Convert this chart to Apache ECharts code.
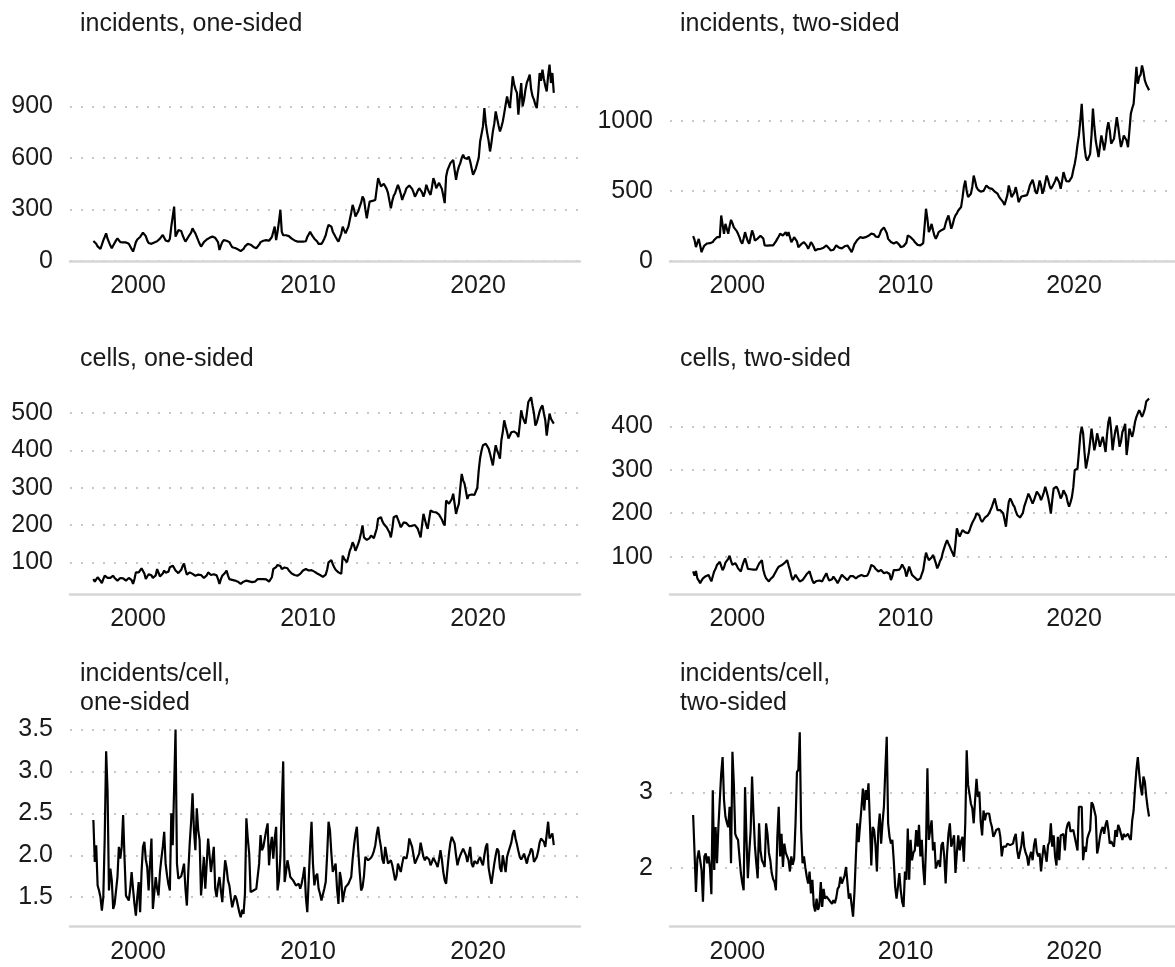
<!DOCTYPE html>
<html><head><meta charset="utf-8">
<script src="https://cdn.jsdelivr.net/npm/echarts@6/dist/echarts.min.js"></script>
<style>html,body{margin:0;padding:0;background:#fff}#c{width:1175px;height:967px}</style>
</head><body><div id="c"></div>
<script>
// monthly series, first value = May 1997, last = June 2024
const startYear = 1997.375;

const incidentsOneSided = [
117,110,100,85,78,70,74,120,
140,161,130,110,90,74,90,105,120,132,125,110,
110,108,105,108,102,100,90,70,55,80,110,125,
132,140,150,165,171,145,120,105,95,100,105,108,
110,115,122,130,140,152,135,120,115,113,130,200,
200,317,142,160,180,190,175,150,130,113,120,140,
140,165,190,175,161,150,120,100,84,95,110,120,
125,130,135,140,142,138,135,125,110,64,90,110,
122,120,118,118,110,95,80,78,76,74,68,60,
58,54,70,85,95,100,103,95,90,82,78,74,
85,95,110,115,118,120,122,120,118,125,140,170,
200,122,170,230,298,170,150,148,150,152,145,135,
130,125,120,118,113,110,113,115,113,113,115,140,
150,171,155,142,130,120,113,100,93,100,113,130,
150,185,210,220,200,171,165,140,125,113,113,160,
200,180,161,165,200,240,280,327,300,259,275,290,
317,340,375,360,300,249,300,346,340,350,352,356,
420,482,460,434,445,450,453,420,395,350,307,350,
380,395,420,444,420,390,356,380,400,424,430,440,
444,420,400,375,390,410,424,424,400,375,400,444,
420,400,385,430,482,460,424,440,455,463,420,380,
337,492,530,550,570,580,589,530,473,520,550,570,
600,619,600,589,595,609,580,540,502,520,540,550,
600,696,740,784,891,800,745,700,638,690,755,800,
871,830,790,755,780,813,860,910,959,920,891,980,
1076,1030,1000,979,852,950,1037,901,940,998,1040,1060,
1086,1000,960,940,910,891,980,1095,1050,1115,1060,1020,
988,1080,1144,1037,1095,979];

const incidentsTwoSided = [
177,150,99,130,158,110,63,90,
110,123,125,127,127,130,135,150,163,170,168,170,
325,260,194,265,230,194,250,294,270,240,230,215,
194,170,140,123,160,206,170,140,123,170,218,190,
146,150,160,170,180,194,160,111,111,110,111,112,
111,111,120,140,158,175,194,190,182,190,206,180,
206,170,135,150,170,182,140,99,110,120,130,135,
135,110,87,110,135,120,100,75,80,85,86,87,
87,95,100,111,105,90,75,63,80,95,111,100,
95,87,90,100,105,111,111,100,80,63,90,120,
135,150,160,170,170,165,170,170,175,180,182,195,
206,190,175,172,170,190,218,230,240,246,200,158,
145,135,123,125,130,135,130,115,99,100,105,111,
130,182,175,170,160,150,135,125,115,111,111,115,
127,250,373,300,206,230,265,220,180,158,180,206,
210,220,225,230,270,300,325,280,230,260,300,325,
340,360,370,385,450,530,574,500,456,470,480,530,
610,570,527,510,500,495,492,500,510,539,530,520,
520,515,505,495,490,480,460,445,432,420,400,396,
470,539,500,456,470,490,527,480,420,440,460,468,
465,456,470,500,539,560,579,540,495,480,520,574,
540,480,510,560,610,580,540,515,530,539,570,600,
610,560,515,570,634,600,570,563,568,574,600,650,
692,750,830,896,1000,1121,950,812,740,717,740,765,
900,1088,960,858,800,741,820,896,850,789,850,940,
991,930,837,850,872,950,1026,960,880,813,850,896,
896,860,812,930,1050,1090,1121,1250,1385,1265,1313,1330,
1396,1350,1289,1260,1240,1218];

const cellsOneSided = [
55,48,46,60,55,50,44,55,
64,62,58,55,58,62,64,58,54,51,55,58,
60,57,54,51,55,58,60,52,42,55,73,73,
73,78,84,87,70,55,62,68,73,65,58,55,
65,82,72,62,60,70,78,72,69,75,87,90,
91,85,78,73,71,69,80,90,97,80,67,70,
73,71,69,66,64,65,67,69,66,62,58,55,
65,73,69,66,64,68,73,65,55,42,55,64,
68,72,78,65,55,51,53,52,51,50,48,45,
42,45,48,50,51,50,49,48,47,46,48,52,
55,54,55,53,55,55,54,50,48,46,60,82,
84,87,93,96,90,82,84,86,87,84,78,73,
70,68,66,64,64,66,69,72,78,80,82,80,
78,78,79,77,75,73,70,69,66,62,61,64,
67,80,100,104,106,95,87,80,75,73,70,69,
118,110,105,100,115,131,140,154,145,131,140,150,
163,180,199,167,165,160,158,165,172,168,165,163,
190,217,220,221,210,203,198,194,190,180,167,190,
221,223,225,215,205,194,200,207,212,205,200,197,
194,198,203,200,203,190,178,167,200,230,215,200,
190,215,239,236,235,234,234,232,228,225,215,205,
199,266,262,257,257,270,284,282,230,245,257,300,
337,320,311,311,270,280,284,282,282,281,279,300,
346,380,400,414,416,418,418,405,391,375,360,390,
414,400,390,378,427,450,481,465,450,432,440,449,
449,451,453,445,436,470,508,490,480,472,500,530,
530,543,520,500,467,475,490,505,515,521,500,481,
440,470,499,485,480,472];

const cellsTwoSided = [
66,56,67,50,45,39,45,50,
52,55,56,58,50,43,55,66,72,81,85,88,
91,69,75,86,90,95,102,90,81,83,85,80,
73,70,66,78,88,96,85,72,69,71,73,70,
66,70,77,84,88,92,70,58,50,46,43,48,
52,54,60,66,72,77,79,80,81,85,88,92,
80,69,55,46,52,58,54,48,43,45,46,50,
55,60,64,66,55,45,39,42,44,46,45,44,
43,50,56,62,52,45,43,48,54,50,45,39,
45,52,58,55,52,48,46,50,55,58,55,52,
50,52,55,58,58,56,55,54,56,62,70,81,
79,77,72,68,66,67,69,65,62,60,64,66,
60,46,55,69,68,69,69,70,75,82,85,70,
54,65,77,68,58,55,52,48,46,43,50,60,
69,90,109,100,92,95,98,104,95,85,73,80,
90,96,110,120,130,138,130,123,115,108,100,130,
165,155,146,150,161,158,156,155,154,160,170,178,
180,190,200,203,195,185,180,185,190,192,195,200,
203,215,225,234,220,207,205,207,207,200,185,169,
200,226,234,228,220,215,205,196,192,190,188,200,
215,225,235,245,238,230,222,230,240,250,253,240,
230,238,248,261,250,237,220,199,230,257,260,261,
255,245,234,240,253,250,240,225,215,225,237,260,
299,300,303,340,380,399,384,340,303,320,338,365,
395,370,345,360,384,370,353,365,376,360,341,380,
410,422,390,345,370,390,402,380,353,365,387,395,
406,334,360,395,385,376,390,410,422,430,437,430,
422,430,440,457,460,464];

const perCellOneSided = [
2.42,1.92,2.12,1.64,1.58,1.50,1.34,1.50,
2.20,3.24,2.78,1.58,1.84,1.70,1.36,1.42,1.42,1.74,2.10,1.96,
2.10,2.48,1.96,1.52,1.52,1.46,1.60,1.80,1.60,1.42,1.28,1.50,
1.68,1.32,1.80,2.10,2.16,1.95,1.86,1.58,1.90,2.20,1.36,1.55,
1.74,1.60,1.52,1.80,1.96,2.10,2.28,1.90,1.76,1.65,1.58,2.50,
2.12,2.80,3.50,1.90,1.72,1.70,1.75,1.82,1.90,1.60,1.40,1.80,
2.14,2.40,2.74,2.30,2.06,2.56,2.30,2.18,1.52,1.75,1.98,1.60,
1.90,2.20,2.00,1.80,1.95,2.10,1.60,1.50,1.65,1.74,1.58,1.44,
1.70,1.94,1.85,1.70,1.64,1.50,1.38,1.45,1.52,1.48,1.40,1.32,
1.26,1.35,1.30,1.54,2.44,2.20,2.02,1.56,1.56,1.58,1.58,1.60,
1.60,1.90,2.24,2.06,2.10,2.10,2.30,2.38,1.88,2.10,2.22,1.96,
2.20,2.34,1.58,1.70,1.98,2.60,3.12,1.68,1.80,1.94,1.85,1.74,
1.72,1.70,1.68,1.64,1.62,1.66,1.60,1.66,1.75,1.86,1.50,1.32,
1.70,2.10,2.40,1.90,1.64,1.75,1.78,1.60,1.54,1.46,1.46,1.60,
1.68,2.00,2.40,2.30,2.02,1.80,1.85,1.90,1.60,1.42,1.80,1.70,
1.44,1.55,1.62,1.64,1.66,1.70,1.74,1.95,2.12,2.25,2.34,2.05,
1.80,1.58,1.62,1.75,1.98,1.96,1.94,1.95,1.97,2.00,2.05,2.12,
2.25,2.34,2.20,2.10,1.95,1.90,2.10,2.10,1.90,1.92,1.94,1.88,
1.86,1.70,1.75,1.90,1.85,1.80,1.90,1.98,1.97,1.96,2.05,2.20,
2.20,2.10,2.00,1.90,1.92,1.98,2.02,2.15,2.15,1.98,1.94,1.98,
2.00,1.95,1.88,1.92,1.97,1.95,1.90,1.86,1.95,2.06,1.95,1.80,
1.70,1.66,1.85,2.02,2.15,2.22,2.18,2.14,2.00,1.88,1.95,2.00,
2.04,2.08,2.08,2.00,1.92,2.00,2.10,1.90,1.86,1.93,1.92,1.90,
1.95,1.98,1.92,1.88,2.00,2.10,2.14,1.85,1.75,1.66,1.78,1.90,
2.00,2.08,2.05,1.85,1.80,2.00,1.90,1.80,1.98,2.04,2.06,2.15,
2.25,2.30,2.20,2.13,2.05,1.98,1.95,1.98,2.02,1.96,1.90,1.98,
2.02,2.08,2.05,1.92,1.95,1.98,2.05,2.15,2.20,2.22,2.16,2.10,
2.25,2.40,2.20,2.20,2.26,2.12];

const perCellTwoSided = [
2.70,2.20,1.68,2.12,2.23,2.23,1.97,1.55,
2.15,2.19,2.06,2.15,2.00,1.65,3.03,1.97,2.54,2.06,2.54,2.90,
3.25,3.47,2.90,2.68,2.60,2.54,2.81,2.06,3.54,3.12,2.45,2.40,
2.37,2.15,1.93,1.80,1.70,3.07,2.39,1.86,2.20,2.50,3.21,2.72,
2.30,2.06,1.86,2.59,2.23,2.10,2.06,2.01,2.59,2.45,2.20,2.10,
1.93,1.85,1.81,1.70,2.40,2.81,2.15,2.45,2.01,2.32,2.20,2.15,
2.10,1.95,2.15,2.04,2.12,2.60,3.27,3.30,3.80,2.50,2.06,2.15,
2.00,1.88,1.79,1.95,1.66,1.84,1.50,1.42,1.59,1.44,1.50,1.81,
1.48,1.72,1.59,1.62,1.64,1.57,1.55,1.52,1.57,1.53,1.60,1.72,
1.75,1.88,1.79,1.79,1.90,2.01,1.99,1.59,1.66,1.50,1.35,1.68,
2.15,2.59,2.34,2.32,2.80,3.05,2.76,3.03,2.90,3.12,2.60,2.03,
2.54,2.50,2.30,1.95,2.50,2.72,2.32,2.60,2.81,3.30,3.74,2.59,
2.41,2.32,2.37,2.10,1.75,1.59,1.75,1.93,1.70,1.55,1.48,1.95,
1.84,2.52,1.84,2.37,2.10,2.20,2.23,2.50,2.28,2.57,2.15,2.37,
2.00,1.77,2.28,3.32,2.37,2.50,2.63,2.23,2.34,1.99,2.05,2.10,
2.01,2.30,2.34,2.15,1.79,2.19,2.45,2.59,2.28,2.35,2.43,1.93,
2.20,2.43,2.23,2.35,2.41,2.08,2.60,3.56,3.10,2.98,2.85,2.79,
2.59,2.90,3.18,2.94,3.01,2.61,2.43,2.76,2.63,2.72,2.72,2.72,
2.61,2.54,2.41,2.45,2.50,2.51,2.52,2.41,2.15,2.28,2.28,2.28,
2.32,2.31,2.30,2.31,2.32,2.40,2.45,2.23,2.12,2.10,2.30,2.48,
2.28,2.20,2.15,2.03,2.15,2.21,2.10,2.30,2.39,2.21,2.15,2.19,
1.95,2.15,2.30,2.32,2.08,2.30,2.34,2.59,2.28,2.43,2.15,2.03,
2.41,2.10,2.43,2.45,2.45,2.23,2.50,2.58,2.61,2.48,2.49,2.50,
2.41,2.39,2.23,2.81,2.81,2.81,2.10,2.28,2.21,2.39,2.45,2.50,
2.87,2.84,2.83,2.68,2.19,2.28,2.41,2.50,2.54,2.45,2.57,2.63,
2.50,2.32,2.35,2.37,2.28,2.50,2.41,2.57,2.52,2.50,2.37,2.45,
2.41,2.43,2.45,2.40,2.37,2.63,2.76,3.05,3.30,3.47,3.25,3.07,
2.96,3.21,3.14,2.95,2.80,2.68];

const titles = ['incidents, one-sided', 'incidents, two-sided',
  'cells, one-sided', 'cells, two-sided',
  'incidents/cell,\none-sided', 'incidents/cell,\ntwo-sided'];
const xTicks = [2000, 2010, 2020];
const yTicks = [[0, 300, 600, 900], [0, 500, 1000],
  [100, 200, 300, 400, 500], [100, 200, 300, 400],
  [1.5, 2.0, 2.5, 3.0, 3.5], [2, 3]];
const yRanges = [[0, 1200], [0, 1470], [15, 565], [14, 486], [1.15, 3.59], [1.22, 3.935]];
const allSeries = [incidentsOneSided, incidentsTwoSided, cellsOneSided, cellsTwoSided, perCellOneSided, perCellTwoSided];

// layout
const FONT = 'Liberation Sans, Arial, Helvetica, sans-serif';
const colLeft = [70, 670], colWidth = [510, 514];
const rowTop = [55, 389, 722], rowHeight = [206, 205, 204.5];
const titleTop = [5, 340, 655];

const grids = [], xAxes = [], yAxes = [], series = [], titleOpts = [];
for (let k = 0; k < 6; k++) {
  const r = Math.floor(k / 2), c = k % 2;
  grids.push({left: colLeft[c], top: rowTop[r], width: colWidth[c], height: rowHeight[r]});
  titleOpts.push({text: titles[k], left: colLeft[c] + 5, top: titleTop[r], padding: 5,
    textStyle: {fontSize: 25, fontWeight: 'normal', color: '#1a1a1a', fontFamily: FONT, lineHeight: 29}});
  xAxes.push({gridIndex: k, type: 'value', min: 1996, max: 2026,
    axisLine: {show: true, lineStyle: {color: '#d6d6d6', width: 2.5}},
    axisTick: {show: false, customValues: xTicks},
    axisLabel: {customValues: xTicks, formatter: v => String(v), fontSize: 25, color: '#1a1a1a', fontFamily: FONT, margin: 13},
    splitLine: {show: false}});
  const fmt = (k === 4) ? (v => v.toFixed(1)) : (v => String(v));
  yAxes.push({gridIndex: k, type: 'value', min: yRanges[k][0], max: yRanges[k][1],
    axisLine: {show: false},
    axisTick: {show: false, customValues: yTicks[k]},
    axisLabel: {customValues: yTicks[k], formatter: fmt, fontSize: 25, color: '#1a1a1a', fontFamily: FONT, margin: 17},
    splitLine: {show: true, lineStyle: {color: '#c8c8c8', width: 2.2, type: [2, 9]}}});
  series.push({type: 'line', xAxisIndex: k, yAxisIndex: k, showSymbol: false, symbol: 'none',
    lineStyle: {color: '#000', width: 2.2}, z: 5,
    data: allSeries[k].map((v, i) => [startYear + i / 12, v])});
}

const chart = echarts.init(document.getElementById('c'), null, {renderer: 'canvas'});
chart.setOption({animation: false, backgroundColor: '#fff', title: titleOpts,
  grid: grids, xAxis: xAxes, yAxis: yAxes, series: series});
</script></body></html>
